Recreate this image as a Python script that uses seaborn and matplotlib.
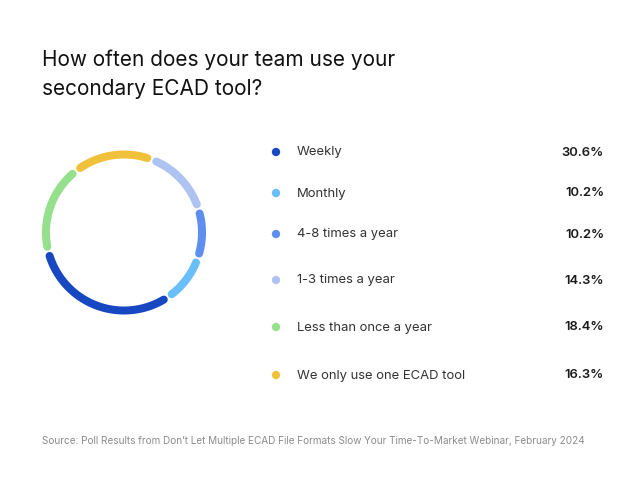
import numpy as np
import pandas as pd
import matplotlib.pyplot as plt
import seaborn as sns

sns.set_theme(style="white")
plt.rcParams['font.family'] = ['Inter', 'DejaVu Sans']

# data (legend order)
categories = ["Weekly", "Monthly", "4-8 times a year", "1-3 times a year",
              "Less than once a year", "We only use one ECAD tool"]
shares = [30.6, 10.2, 10.2, 14.3, 18.4, 16.3]
colors = ["#1747C1", "#69BFFA", "#5E8FEE", "#AFC3F2", "#94E08C", "#F0C13A"]
# order the slices run counter-clockwise round the ring
ring_order = ["Weekly", "Monthly", "4-8 times a year", "1-3 times a year",
              "We only use one ECAD tool", "Less than once a year"]

title_lines = ["How often does your team use your", "secondary ECAD tool?"]
source = ("Source: Poll Results from Don\u2019t Let Multiple ECAD File Formats "
          "Slow Your Time-To-Market Webinar, February 2024")

df = pd.DataFrame({"category": categories, "share": shares, "color": colors})

W, H = 637, 499
fig = plt.figure(figsize=(W / 100, H / 100), dpi=100)
fig.patch.set_facecolor("white")

# ---- donut ring ----
cx, cy, box = 124, 232.5, 180
ax = fig.add_axes([(cx - box / 2) / W, (H - cy - box / 2) / H, box / W, box / H])
radius, lw_px, gap_px = 78, 8, 1.5
start = 194.0
ring = df.set_index("category").loc[ring_order].reset_index()
ring["a0"] = start + 360 * (ring["share"].cumsum() - ring["share"]) / ring["share"].sum()
ring["a1"] = ring["a0"] + 360 * ring["share"] / ring["share"].sum()
trim = np.degrees((gap_px / 2 + lw_px / 2) / radius)
for _, r in ring.iterrows():
    t = np.radians(np.linspace(r["a0"] + trim, r["a1"] - trim, 100))
    seg = pd.DataFrame({"x": radius * np.cos(t), "y": radius * np.sin(t)})
    sns.lineplot(data=seg, x="x", y="y", sort=False, ax=ax, color=r["color"],
                 linewidth=lw_px * 0.72, solid_capstyle="round")
ax.set_xlim(-box / 2, box / 2)
ax.set_ylim(-box / 2, box / 2)
ax.set_aspect("equal")
ax.axis("off")

# ---- overlay in pixel coords for texts and legend ----
ov = fig.add_axes([0, 0, 1, 1])

ov.text(42, 66, title_lines[0], fontsize=15, color="#111111", va="baseline")
ov.text(42, 95, title_lines[1], fontsize=15, color="#111111", va="baseline")

row_y = [152, 193, 234, 280, 327, 375]
leg = pd.DataFrame({"x": [276] * len(df), "y": row_y, "category": categories})
sns.scatterplot(data=leg, x="x", y="y", hue="category", palette=colors,
                s=36, linewidth=0, legend=False, ax=ov)
for y, lab, v in zip(row_y, categories, shares):
    ov.text(297, y + 0.5, lab, fontsize=9.4, color="#333333", va="center")
    ov.text(604, y + 0.5, f"{v:.1f}%", fontsize=9.4, color="#1a1a1a",
            fontweight="semibold", va="center", ha="right")
ov.set_xlim(0, W)
ov.set_ylim(H, 0)
ov.axis("off")

ov.text(42, 441, source, fontsize=7.2, color="#8c8c8c", va="center")

fig.savefig("out.png", dpi=100, facecolor="white")
